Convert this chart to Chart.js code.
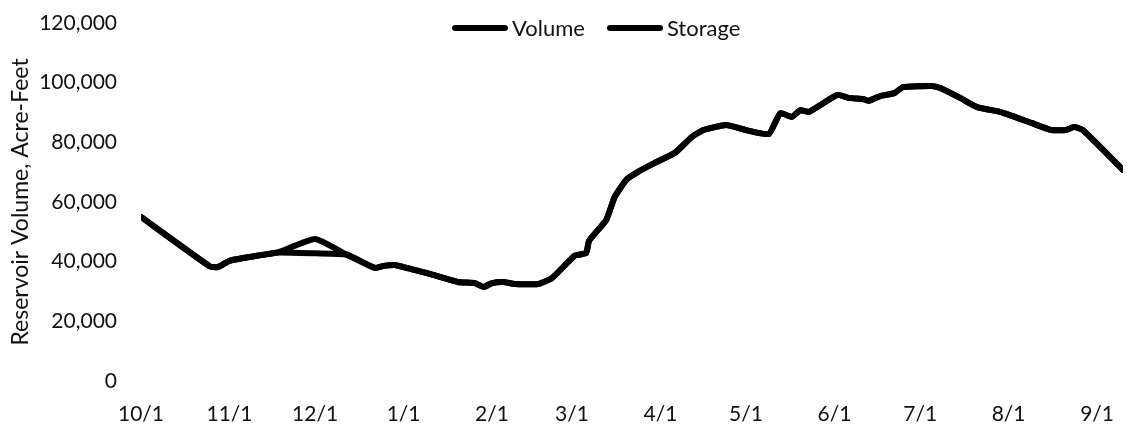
<!DOCTYPE html>
<html>
<head>
<meta charset="utf-8">
<script src="https://cdn.jsdelivr.net/npm/chart.js@4/dist/chart.umd.min.js"></script>
<style>
  body { margin: 0; background: #fff; }
  #wrap { position: relative; width: 1135px; height: 424px; }
  #legend { position: absolute; top: 14px; left: 452px; display: flex; align-items: center;
            font-family: Lato, "Noto Sans", sans-serif; font-size: 22px; color: #111; }
  #legend .item { display: flex; align-items: center; margin-right: 22px; }
  #legend .swatch { width: 56px; height: 6px; border-radius: 3px; background: #000; margin-right: 4px; }
</style>
</head>
<body>
<div id="wrap">
  <canvas id="myChart" width="1135" height="424"></canvas>
  <div id="legend"></div>
</div>
<script>
// days counted from 10/1
var days = [0, 24, 27, 31, 42, 48, 61, 72, 82, 85, 89, 93, 99, 111, 117, 120, 123, 127, 131, 139, 144,
            152, 156, 157, 163, 166, 170, 174, 180, 187, 193, 197, 205, 212, 220, 224, 228, 231, 234,
            244, 248, 253, 255, 259, 264, 267, 277, 280, 287, 293, 301, 312, 319, 324, 327, 330, 344];

var volume = [55000, 38500, 38200, 40300, 42200, 43100, 47600, 42400, 37900, 38600, 38900, 37900, 36500,
              33200, 32800, 31500, 32800, 33200, 32500, 32500, 34500, 42000, 42900, 47000, 54000, 61700,
              67400, 70000, 73100, 76400, 81800, 84100, 85800, 84100, 82800, 89800, 88500, 90800, 90200,
              95900, 94900, 94500, 93900, 95500, 96500, 98500, 98900, 98200, 94900, 91800, 90200, 86500,
              84100, 84100, 85100, 84100, 70800];

var storage = [55000, 38500, 38200, 40300, 42200, 43100, 42800, 42400, 37900, 38600, 38900, 37900, 36500,
               33200, 32800, 31500, 32800, 33200, 32500, 32500, 34500, 42000, 42900, 47000, 54000, 61700,
               67400, 70000, 73100, 76400, 81800, 84100, 85800, 84100, 82800, 89800, 88500, 90800, 90200,
               95900, 94900, 94500, 93900, 95500, 96500, 98500, 98900, 98200, 94900, 91800, 90200, 86500,
               84100, 84100, 85100, 84100, 70800];

var monthDays = [0, 31, 61, 92, 123, 151, 182, 212, 243, 273, 304, 335];
var monthLabels = ['10/1', '11/1', '12/1', '1/1', '2/1', '3/1', '4/1', '5/1', '6/1', '7/1', '8/1', '9/1'];

var seriesNames = ['Volume', 'Storage'];

function puntos(vals) {
    return days.map(function (d, i) { return { x: d, y: vals[i] }; });
}

var fuente = { family: 'Lato, "Noto Sans", sans-serif', size: 21 };

var ctx = document.getElementById('myChart');
var myChart = new Chart(ctx, {
    type: 'line',
    data: {
        datasets: [
            { label: seriesNames[0], data: puntos(volume), borderColor: '#000', borderWidth: 6, pointRadius: 0,
              tension: 0.15, borderCapStyle: 'round', borderJoinStyle: 'round' },
            { label: seriesNames[1], data: puntos(storage), borderColor: '#000', borderWidth: 6, pointRadius: 0,
              tension: 0.15, borderCapStyle: 'round', borderJoinStyle: 'round' }
        ]
    },
    options: {
        responsive: false,
        animation: false,
        layout: { padding: { top: 23, right: 0, bottom: 0, left: 0 } },
        plugins: { legend: { display: false }, tooltip: { enabled: false } },
        scales: {
            x: {
                type: 'linear',
                min: 0,
                max: 344,
                afterBuildTicks: function (scale) {
                    scale.ticks = monthDays.map(function (v) { return { value: v }; });
                },
                afterFit: function (scale) { scale.height = 43; },
                grid: { display: false, drawTicks: false },
                border: { display: false },
                ticks: {
                    autoSkip: false, maxRotation: 0, padding: 21, color: '#111', font: fuente,
                    callback: function (v) { return monthLabels[monthDays.indexOf(v)]; }
                }
            },
            y: {
                min: 0,
                max: 120000,
                afterFit: function (scale) {
                    scale.width = 141;
                    scale.paddingTop = 0;
                    scale.paddingBottom = 0;
                },
                grid: { color: 'rgba(0,0,0,0.04)', drawTicks: false },
                border: { display: false, dash: [2, 6] },
                ticks: {
                    stepSize: 20000, padding: 24, color: '#111', font: fuente,
                    callback: function (v) { return v.toLocaleString('en-US'); }
                },
                title: { display: true, text: 'Reservoir Volume, Acre-Feet', color: '#111', font: { family: fuente.family, size: 23 },
                         padding: { top: 7, bottom: 0 } }
            }
        }
    }
});

// leyenda en html
var leg = document.getElementById('legend');
seriesNames.forEach(function (n) {
    leg.innerHTML += '<div class="item"><span class="swatch"></span><span>' + n + '</span></div>';
});
</script>
</body>
</html>
